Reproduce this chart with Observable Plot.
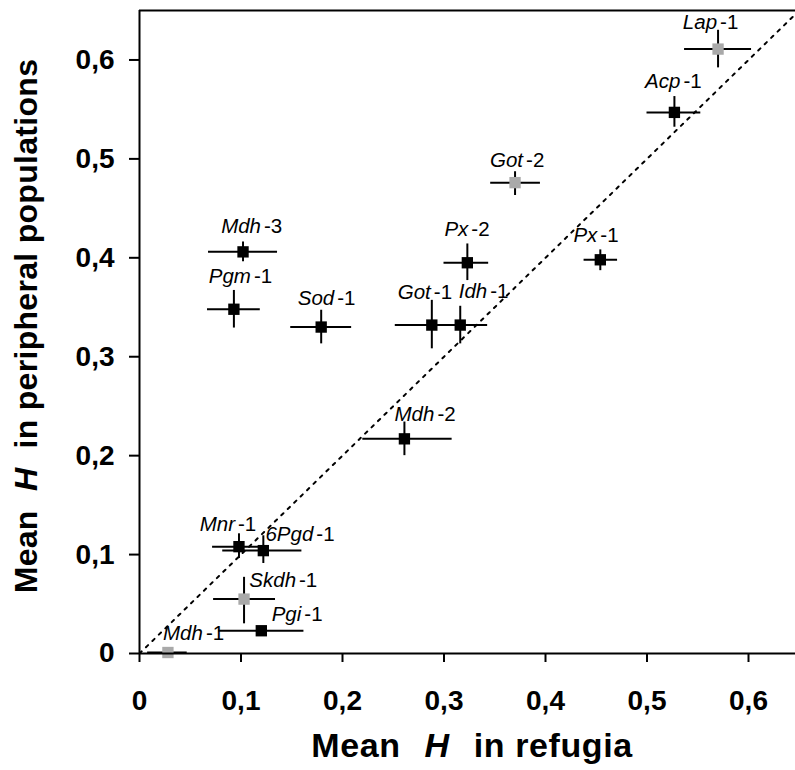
<!DOCTYPE html>
<html>
<head>
<meta charset="utf-8">
<script src="https://cdn.jsdelivr.net/npm/d3@7"></script>
<script src="https://cdn.jsdelivr.net/npm/@observablehq/plot@0.6"></script>
<style>
  html, body { margin: 0; padding: 0; background: #fff; }
  svg { display: block; }
</style>
</head>
<body>
<div id="chart"></div>
<script>
// ---- data ----
const locusName = ["Lap", "Acp", "Got", "Px", "Px", "Got", "Idh", "Mdh", "Mdh", "Pgm", "Sod", "Mnr", "6Pgd", "Skdh", "Pgi", "Mdh"];
const locusNum  = ["-1", "-1", "-2", "-2", "-1", "-1", "-1", "-2", "-3", "-1", "-1", "-1", "-1", "-1", "-1", "-1"];
const hRefugia    = [0.570, 0.527, 0.370, 0.323, 0.454, 0.288, 0.316, 0.261, 0.102, 0.093, 0.179, 0.098, 0.122, 0.103, 0.120, 0.028];
const hPeripheral = [0.611, 0.547, 0.476, 0.395, 0.398, 0.332, 0.332, 0.217, 0.406, 0.348, 0.330, 0.108, 0.104, 0.055, 0.023, 0.001];
const refugiaLo    = [0.537, 0.500, 0.346, 0.300, 0.438, 0.252, 0.296, 0.220, 0.068, 0.067, 0.149, 0.072, 0.082, 0.073, 0.078, 0.008];
const refugiaHi    = [0.603, 0.553, 0.395, 0.344, 0.471, 0.318, 0.343, 0.308, 0.136, 0.119, 0.209, 0.125, 0.160, 0.134, 0.162, 0.047];
const peripheralLo = [0.592, 0.532, 0.463, 0.377, 0.387, 0.308, 0.313, 0.200, 0.396, 0.329, 0.313, 0.096, 0.091, 0.030, 0.023, 0.001];
const peripheralHi = [0.630, 0.563, 0.487, 0.414, 0.408, 0.357, 0.351, 0.234, 0.416, 0.367, 0.347, 0.121, 0.119, 0.077, 0.023, 0.001];
const markerGroup  = ["grey", "black", "grey", "black", "black", "black", "black", "black", "black", "black", "black", "black", "black", "grey", "black", "grey"];
const tickValues = [0, 0.1, 0.2, 0.3, 0.4, 0.5, 0.6];
const tickLabels = ["0", "0,1", "0,2", "0,3", "0,4", "0,5", "0,6"];
const xTitle = ["Mean ", "H", " in refugia"];
const yTitle = ["Mean ", "H", " in peripheral populations"];

// ---- label placement (pixel offsets from each marker: junction x, baseline y) ----
const labelDx = [0, 7, 9, 2, -2, 0, 28, 31, 19, 18, 14, -3, 51, 53, 41, 36];
const labelDy = [-20, -24, -16, -27, -18, -26, -27, -18, -19, -26, -22, -16, -10, -12, -10, -13];

const rows = locusName.map((n, i) => ({
  name: n, num: locusNum[i], x: hRefugia[i], y: hPeripheral[i],
  x1: refugiaLo[i], x2: refugiaHi[i], y1: peripheralLo[i], y2: peripheralHi[i],
  group: markerGroup[i]
}));

const FONT = "'Liberation Sans', Arial, Helvetica, sans-serif";
const W = 795, H = 770;
const mL = 139, mT = 10, mB = 117, mR = 0;
const xMax = 0.6463, yMax = 0.65;
const LABEL_SIZE = 20.5;

const labelMarks = [];
rows.forEach((r, i) => {
  labelMarks.push(Plot.text([r], {x: "x", y: "y", text: "name", textAnchor: "end", lineAnchor: "bottom",
    dx: labelDx[i] - 1, dy: labelDy[i], fontStyle: "italic", fontWeight: "normal", fontSize: LABEL_SIZE, fill: "black"}));
  labelMarks.push(Plot.text([r], {x: "x", y: "y", text: "num", textAnchor: "start", lineAnchor: "bottom",
    dx: labelDx[i] + 2, dy: labelDy[i], fontStyle: "normal", fontWeight: "normal", fontSize: LABEL_SIZE, fill: "black"}));
});

const diag = [0, yMax];

const plot = Plot.plot({
  width: W, height: H,
  marginLeft: mL, marginRight: mR, marginTop: mT, marginBottom: mB,
  style: {fontFamily: FONT, background: "white", overflow: "visible"},
  x: {domain: [0, xMax], label: null},
  y: {domain: [0, yMax], label: null},
  marks: [
    Plot.line(diag, {x: d => d, y: d => d, stroke: "black", strokeWidth: 2, strokeDasharray: "3,6", clip: true}),
    Plot.ruleY(rows, {y: "y", x1: "x1", x2: "x2", stroke: "black", strokeWidth: 2}),
    Plot.ruleX(rows, {x: "x", y1: "y1", y2: "y2", stroke: "black", strokeWidth: 2}),
    Plot.dot(rows, {x: "x", y: "y", symbol: "square", r: 6.4,
      fill: d => d.group === "grey" ? "#a9a9a9" : "black", stroke: "none"}),
    ...labelMarks,
    Plot.ruleX([0], {stroke: "black", strokeWidth: 2}),
    Plot.ruleY([0], {stroke: "black", strokeWidth: 2}),
    Plot.ruleY([yMax], {stroke: "black", strokeWidth: 2}),
    Plot.axisX({ticks: tickValues, tickFormat: (d, i) => tickLabels[i], tickSize: 9, tickPadding: 28,
      fontSize: 28, fontWeight: "bold", strokeWidth: 2, label: null}),
    Plot.axisY({ticks: tickValues, tickFormat: (d, i) => tickLabels[i], tickSize: 10, tickPadding: 15,
      fontSize: 28, fontWeight: "bold", strokeWidth: 2, label: null})
  ]
});

document.getElementById("chart").appendChild(plot);

// ---- axis titles (mixed italic H) ----
const svg = d3.select(plot);
const xt = svg.append("text")
  .attr("x", 472).attr("y", 757)
  .attr("text-anchor", "middle")
  .attr("font-family", FONT).attr("font-size", 34).attr("font-weight", "bold")
  .attr("letter-spacing", 0.6)
  .attr("fill", "black").attr("xml:space", "preserve");
xt.append("tspan").text(xTitle[0]);
xt.append("tspan").attr("font-style", "italic").attr("dx", 14).text(xTitle[1]);
xt.append("tspan").attr("dx", 14).text(xTitle[2]);

const yt = svg.append("text")
  .attr("transform", "translate(37,326) rotate(-90)")
  .attr("text-anchor", "middle")
  .attr("font-family", FONT).attr("font-size", 32).attr("font-weight", "bold")
  .attr("letter-spacing", 0.3)
  .attr("fill", "black").attr("xml:space", "preserve");
yt.append("tspan").text(yTitle[0]);
yt.append("tspan").attr("font-style", "italic").attr("dx", 10).text(yTitle[1]);
yt.append("tspan").attr("dx", 10).text(yTitle[2]);
</script>
</body>
</html>
